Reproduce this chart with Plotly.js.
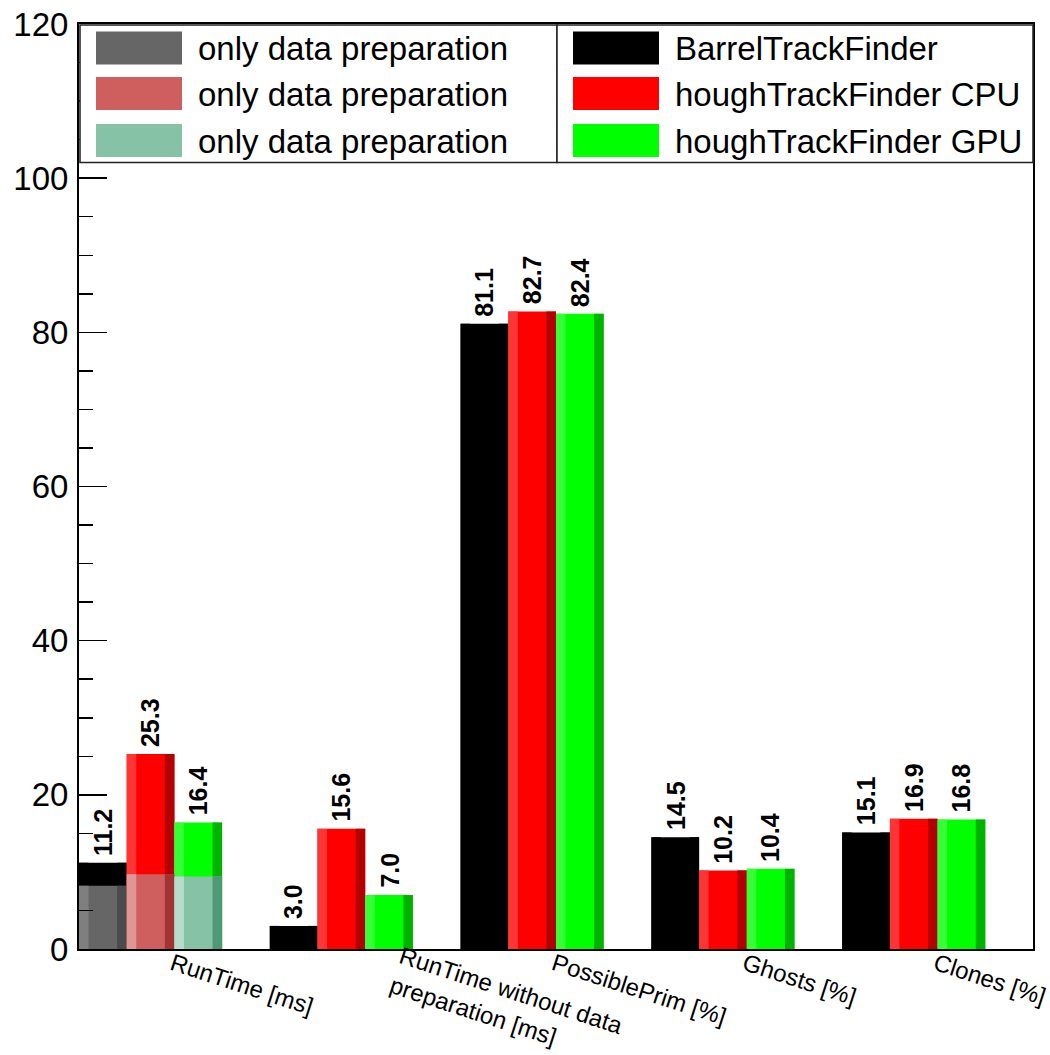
<!DOCTYPE html>
<html>
<head>
<meta charset="utf-8">
<script src="https://cdn.plot.ly/plotly-3.0.1.min.js"></script>
<style>html,body{margin:0;padding:0;background:#ffffff;}</style>
</head>
<body>
<div id="chart" style="width:1050px;height:1055px;"></div>
<script>
// ---------- data ----------
const categories = [
  'RunTime [ms]',
  'RunTime without data<br>preparation [ms]',
  'PossiblePrim [%]',
  'Ghosts [%]',
  'Clones [%]'
];
const seriesNames = ['BarrelTrackFinder', 'houghTrackFinder CPU', 'houghTrackFinder GPU'];
const barrelValues = [11.2, 3.0, 81.1, 14.5, 15.1];
const cpuValues    = [25.3, 15.6, 82.7, 10.2, 16.9];
const gpuValues    = [16.4, 7.0, 82.4, 10.4, 16.8];

const prepName = 'only data preparation';
const prepCategories = ['RunTime [ms]'];
const prepBarrel = [8.2];
const prepCpu    = [9.7];
const prepGpu    = [9.4];

const yTickValues = [0, 20, 40, 60, 80, 100, 120];

// ---------- styles ----------
const FONT = 'Liberation Sans, Arial, Helvetica, sans-serif';
const LABEL_ANGLE = 18, LABEL_SIZE = 24;
const seriesStyles = [
  {mid: '#000000', light: '#000000', dark: '#000000'},
  {mid: '#ff0000', light: '#ff3535', dark: '#b30000'},
  {mid: '#00ff00', light: '#35ff35', dark: '#00b300'}
];
const prepStyles = [
  {mid: '#666666', light: '#7f7f7f', dark: '#4b4b4b'},
  {mid: '#cf5f5f', light: '#df9696', dark: '#a33333'},
  {mid: '#86c2a6', light: '#b8dccb', dark: '#4e9a77'}
];
const BAR_W = 0.25, STRIP_W = 0.05;

function barSet(name, x, y, k, style) {
  const off = -0.5 + BAR_W * k;
  const main = {
    type: 'bar', name: name, x: x, y: y, width: BAR_W, offset: off,
    marker: {color: style.mid, line: {width: 0}}, showlegend: false,
    hoverinfo: 'name+y'
  };
  const light = {
    type: 'bar', name: name, x: x, y: y, width: STRIP_W, offset: off,
    marker: {color: style.light, line: {width: 0}}, showlegend: false, hoverinfo: 'skip'
  };
  const dark = {
    type: 'bar', name: name, x: x, y: y, width: STRIP_W, offset: off + BAR_W - STRIP_W,
    marker: {color: style.dark, line: {width: 0}}, showlegend: false, hoverinfo: 'skip'
  };
  return [main, light, dark];
}

const mainValues = [barrelValues, cpuValues, gpuValues];
const prepValues = [prepBarrel, prepCpu, prepGpu];

let traces = [];
mainValues.forEach((vals, k) => {
  traces = traces.concat(barSet(seriesNames[k], categories, vals, k, seriesStyles[k]));
});
prepValues.forEach((vals, k) => {
  traces = traces.concat(barSet(prepName, prepCategories, vals, k, prepStyles[k]));
});

// ---------- layout ----------
const W = 1050, H = 1055;
const M = {l: 79, r: 17, t: 24, b: 106};
const PW = W - M.l - M.r, PH = H - M.t - M.b;
const px2x = p => (p - M.l) / PW;
const py2y = p => (M.t + PH - p) / PH;

const shapes = [];
const annotations = [];

// value labels above each bar (from the data arrays)
mainValues.forEach((vals, k) => {
  vals.forEach((v, i) => {
    annotations.push({
      xref: 'x', yref: 'y', x: i - 0.5 + BAR_W * k + BAR_W / 2, y: v,
      xanchor: 'center', yanchor: 'bottom', yshift: 6, textangle: -90,
      showarrow: false, text: v.toFixed(1), borderpad: 0,
      font: {family: FONT, size: 25, color: '#000000', weight: 'bold'}
    });
  });
});

// multi-line category labels drawn as rotated text, single-line ones as tick labels
const tickText = categories.map(c => c.indexOf('<br>') >= 0 ? '' : c);
categories.forEach((c, i) => {
  if (c.indexOf('<br>') >= 0) {
    annotations.push({
      xref: 'x', yref: 'paper', x: i, y: 0, xanchor: 'left', yanchor: 'top',
      xshift: 20, yshift: 9, textangle: LABEL_ANGLE, align: 'left', showarrow: false,
      text: c, borderpad: 0, font: {family: FONT, size: LABEL_SIZE, color: '#000000'}
    });
  }
});

// legend boxes
const LEG_TOP = 25, LEG_BOT = 162.5, LEG_L = 80, LEG_MID = 557, LEG_R = 1033;
[[LEG_L, LEG_MID], [LEG_MID, LEG_R]].forEach(([a, b]) => {
  shapes.push({type: 'rect', xref: 'paper', yref: 'paper',
    x0: px2x(a), x1: px2x(b), y0: py2y(LEG_BOT), y1: py2y(LEG_TOP),
    line: {color: '#222222', width: 1.5}, fillcolor: '#ffffff', layer: 'above'});
});
const rowTops = [31.5, 77, 124];
const SW_H = 33, SW_W = 86, SW_PAD = 16;
function legendRow(boxLeft, row, color, label) {
  const x0 = boxLeft + SW_PAD;
  const y0 = rowTops[row];
  shapes.push({type: 'rect', xref: 'paper', yref: 'paper',
    x0: px2x(x0), x1: px2x(x0 + SW_W), y0: py2y(y0 + SW_H), y1: py2y(y0),
    line: {width: 0}, fillcolor: color, layer: 'above'});
  annotations.push({xref: 'paper', yref: 'paper', x: px2x(x0 + SW_W + SW_PAD - 2),
    y: py2y(y0 + SW_H / 2 + 1), xanchor: 'left', yanchor: 'middle', showarrow: false,
    text: label, font: {family: FONT, size: 33, color: '#000000'}});
}
prepStyles.forEach((s, i) => legendRow(LEG_L, i, s.mid, prepName));
seriesStyles.forEach((s, i) => legendRow(LEG_MID, i, s.mid, seriesNames[i]));

const layout = {
  width: W, height: H,
  margin: M,
  paper_bgcolor: '#ffffff', plot_bgcolor: '#ffffff',
  barmode: 'overlay',
  showlegend: false,
  font: {family: FONT, color: '#000000'},
  xaxis: {
    type: 'category', range: [-0.5, 4.5], automargin: false,
    showgrid: false, zeroline: false,
    showline: true, mirror: true, linecolor: '#000000', linewidth: 2,
    ticks: '', tickangle: LABEL_ANGLE,
    tickmode: 'array', tickvals: categories, ticktext: tickText,
    ticklabelstandoff: -10, ticklabelshift: -2,
    tickfont: {family: FONT, size: LABEL_SIZE, color: '#000000'}
  },
  yaxis: {
    range: [0, 120], automargin: false,
    showgrid: false, zeroline: false,
    showline: true, mirror: true, linecolor: '#000000', linewidth: 2,
    tickmode: 'array', tickvals: yTickValues, ticktext: yTickValues.map(String),
    ticks: 'inside', ticklen: 28, tickwidth: 1.5, tickcolor: '#000000',
    ticklabelstandoff: 2,
    minor: {dtick: 5, ticks: 'inside', ticklen: 14, tickwidth: 1.5, tickcolor: '#000000', showgrid: false},
    tickfont: {family: FONT, size: 33, color: '#000000'}
  },
  shapes: shapes,
  annotations: annotations
};

Plotly.newPlot('chart', traces, layout, {staticPlot: true, displayModeBar: false});
</script>
</body>
</html>
